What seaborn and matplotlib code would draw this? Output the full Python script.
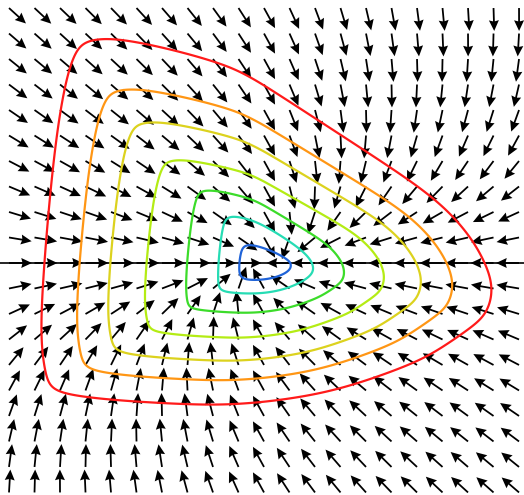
import numpy as np
import matplotlib
matplotlib.use("Agg")
import matplotlib.pyplot as plt
import seaborn as sns

# sampling grid of the direction field
x_nodes = np.round(np.linspace(-2.0, 2.0, 21), 2)
y_nodes = np.round(np.linspace(-2.0, 2.0, 21), 2)

# system:  x' = -(k_tanh*tanh(x) + k_lin*x) + k_cross*y ,  y' = -k_decay*y
k_tanh = 0.70
k_lin = 0.21
k_cross = 0.55
k_decay = 1.0

# outermost level curve of the Lyapunov function, traced clockwise
shape_x = [-1.13, -0.50, -0.11, 0.54, 1.15, 1.46, 1.65, 1.77, 1.77, 1.69,
           1.54, 1.30, 0.91, 0.52, 0.13, -0.35, -0.89, -1.29, -1.56, -1.64,
           -1.69, -1.72, -1.71, -1.68, -1.64, -1.60, -1.54, -1.48, -1.40, -1.29]
shape_y = [1.75, 1.61, 1.47, 1.04, 0.65, 0.38, 0.14, -0.13, -0.29, -0.45,
           -0.56, -0.72, -0.88, -1.00, -1.07, -1.11, -1.09, -1.06, -1.01, -0.96,
           -0.80, -0.53, -0.21, 0.26, 0.65, 1.04, 1.36, 1.58, 1.71, 1.75]

# level values, upper/left stretch and corner sharpness of each level curve
levels = [0.155, 0.236, 0.36, 0.535, 0.70, 0.84, 1.015]
upper_stretch = [0.68, 0.96, 0.92, 0.87, 0.91, 0.936, 1.0]
left_stretch = [1.0, 1.0, 1.02, 1.035, 1.035, 1.035, 1.02]
corner_power = [6, 14, 40, 60, 60, 60, 60]
level_colors = ["#1f63d8", "#26dcb4", "#3cdc2a", "#b4ec14", "#dcd21e",
                "#ff9614", "#ff1a1a"]


def field(x, y):
    dx = -(k_tanh * np.tanh(x) + k_lin * x) + k_cross * y
    dy = -k_decay * y
    return dx, dy


def gauge(x, y, power):
    sx = np.asarray(shape_x)
    sy = np.asarray(shape_y)
    ex = np.roll(sx, -1) - sx
    ey = np.roll(sy, -1) - sy
    nx, ny = ey, -ex
    d = nx * sx + ny * sy
    sign = np.sign(d)
    nx, ny, d = nx * sign, ny * sign, d * sign
    # smoothed polygon gauge: soft maximum over the edge support functions
    acc = np.zeros_like(x)
    for a, b, c in zip(nx, ny, d):
        acc += np.clip((a * x + b * y) / c, 0, None) ** power
    return acc ** (1.0 / power)


sns.set_style("white")
fig = plt.figure(figsize=(5.24, 4.95), dpi=100)
ax = fig.add_axes([0, 0, 1, 1])

X, Y = np.meshgrid(x_nodes, y_nodes)
U, V = field(X, Y)
norm = np.hypot(U, V)
norm[norm == 0] = np.nan
ax.quiver(X, Y, U / norm, V / norm, angles="xy", scale_units="xy",
          scale=1 / 0.18, pivot="tail", color="black",
          width=0.0034, headwidth=5.6, headlength=6.0, headaxislength=5.4)

ax.axhline(0, color="black", lw=1.2)

gx = np.linspace(-2.2, 2.2, 600)
gy = np.linspace(-2.2, 2.2, 600)
GX, GY = np.meshgrid(gx, gy)
for lev, ky, kx, pw, col in zip(levels, upper_stretch, left_stretch,
                                corner_power, level_colors):
    ys = np.where(GY > 0, GY / ky, GY)
    xs = np.where(GX < 0, GX / kx, GX)
    ax.contour(GX, GY, gauge(xs, ys, pw), levels=[lev],
               colors=[col], linewidths=1.6)

ax.set_xlim(-2.0706, 2.039)
ax.set_ylim(-1.82, 2.063)
ax.set_axis_off()
fig.savefig("out.png", dpi=100)
